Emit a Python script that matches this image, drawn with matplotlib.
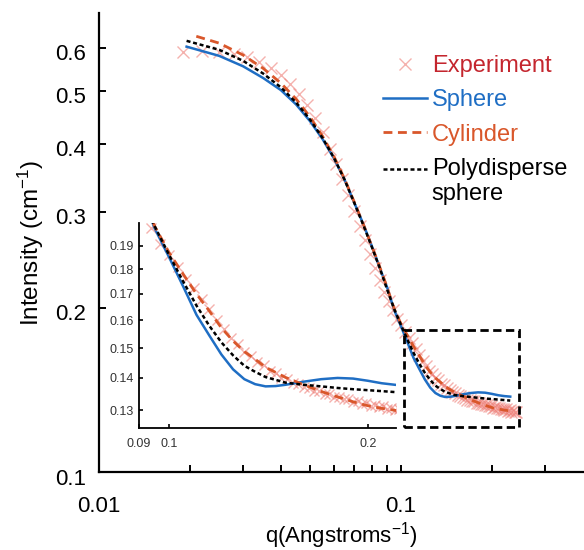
import matplotlib
matplotlib.use("Agg")
import matplotlib.pyplot as plt
from matplotlib.patches import Rectangle
from matplotlib.ticker import FixedLocator, NullLocator, NullFormatter
from matplotlib.transforms import ScaledTranslation

plt.rcParams['font.family'] = ['Liberation Sans', 'DejaVu Sans']
plt.rcParams['mathtext.fontset'] = 'custom'
plt.rcParams['mathtext.rm'] = 'Liberation Sans'
plt.rcParams['mathtext.it'] = 'Liberation Sans:italic'

# experiment (q in 1/A, intensity in 1/cm)
q_exp = [0.019, 0.022, 0.025, 0.028, 0.031, 0.034, 0.037, 0.040, 0.043, 0.046,
         0.049, 0.052, 0.055, 0.058, 0.061, 0.064, 0.067, 0.070, 0.073, 0.076,
         0.079, 0.082, 0.085, 0.088, 0.091, 0.094, 0.097, 0.100, 0.103, 0.106,
         0.109, 0.112, 0.115, 0.118, 0.121, 0.124, 0.127, 0.130, 0.133, 0.136,
         0.139, 0.142, 0.145, 0.148, 0.151, 0.154, 0.157, 0.160, 0.163, 0.166,
         0.169, 0.172, 0.175, 0.178, 0.181, 0.184, 0.187, 0.190, 0.193, 0.196,
         0.199, 0.202, 0.205, 0.208, 0.211, 0.214, 0.217, 0.220, 0.223, 0.226,
         0.229, 0.232, 0.235, 0.238, 0.241]
I_exp = [0.590, 0.592, 0.590, 0.585, 0.577, 0.566, 0.552, 0.535, 0.515, 0.494,
         0.471, 0.446, 0.420, 0.392, 0.368, 0.345, 0.322, 0.301, 0.283, 0.266,
         0.251, 0.237, 0.225, 0.214, 0.206, 0.198, 0.191, 0.186, 0.181, 0.176,
         0.1725, 0.1680, 0.1642, 0.1600, 0.1568, 0.1535, 0.1514, 0.1488, 0.1474, 0.1453,
         0.1442, 0.1424, 0.1416, 0.1401, 0.1396, 0.1384, 0.1381, 0.1370, 0.1368, 0.1358,
         0.1357, 0.1348, 0.1348, 0.1340, 0.1340, 0.1332, 0.1333, 0.1325, 0.1327, 0.1319,
         0.1320, 0.1313, 0.1316, 0.1308, 0.1312, 0.1303, 0.1307, 0.1299, 0.1304, 0.1295,
         0.1299, 0.1291, 0.1295, 0.1287, 0.1290]

# sphere model
q_sph = [0.0195, 0.025, 0.030, 0.035, 0.040, 0.045, 0.050, 0.055, 0.060, 0.065,
         0.070, 0.075, 0.080, 0.085, 0.090, 0.095, 0.100, 0.105, 0.110, 0.115,
         0.120, 0.125, 0.130, 0.135, 0.140, 0.145, 0.150, 0.160, 0.170, 0.180,
         0.190, 0.200, 0.210, 0.220, 0.230]
I_sph = [0.603, 0.580, 0.555, 0.528, 0.502, 0.472, 0.440, 0.408, 0.376, 0.344,
         0.312, 0.285, 0.260, 0.237, 0.218, 0.198, 0.185, 0.173, 0.162, 0.1545,
         0.1478, 0.1428, 0.1396, 0.1380, 0.1373, 0.1374, 0.1378, 0.1388, 0.1396, 0.1400,
         0.1398, 0.1391, 0.1383, 0.1378, 0.1375]

# cylinder model
q_cyl = [0.021, 0.025, 0.030, 0.035, 0.040, 0.045, 0.050, 0.055, 0.060, 0.065,
         0.070, 0.075, 0.080, 0.085, 0.090, 0.095, 0.100, 0.105, 0.110, 0.115,
         0.120, 0.125, 0.130, 0.135, 0.140, 0.150, 0.160, 0.170, 0.180, 0.190,
         0.200, 0.210, 0.220, 0.230]
I_cyl = [0.630, 0.612, 0.582, 0.550, 0.517, 0.483, 0.448, 0.413, 0.379, 0.345,
         0.313, 0.285, 0.260, 0.238, 0.218, 0.199, 0.187, 0.178, 0.170, 0.1635,
         0.1572, 0.1525, 0.1488, 0.1462, 0.1435, 0.1402, 0.1378, 0.1357, 0.1340, 0.1325,
         0.1313, 0.1305, 0.1299, 0.1294]

# polydisperse sphere model
q_poly = [0.0195, 0.025, 0.030, 0.035, 0.040, 0.045, 0.050, 0.055, 0.060, 0.065,
          0.070, 0.075, 0.080, 0.085, 0.090, 0.095, 0.100, 0.105, 0.110, 0.115,
          0.120, 0.125, 0.130, 0.135, 0.140, 0.150, 0.160, 0.170, 0.180, 0.190,
          0.200, 0.210, 0.220, 0.230]
I_poly = [0.618, 0.595, 0.568, 0.538, 0.508, 0.476, 0.443, 0.410, 0.377, 0.344,
          0.312, 0.284, 0.259, 0.237, 0.216, 0.199, 0.186, 0.175, 0.1655, 0.158,
          0.152, 0.1475, 0.1440, 0.1420, 0.1403, 0.1385, 0.1378, 0.1373, 0.1368, 0.1364,
          0.1361, 0.1358, 0.1355, 0.1352]

zoom_q = [0.102, 0.245]
zoom_I = [0.121, 0.182]

c_exp = '#EE7F78'
c_exp_text = '#C4262E'
c_sph = '#1F6EC4'
c_cyl = '#D9572B'
c_poly = 'black'

fig = plt.figure(figsize=(5.84, 5.5), dpi=100)
ax = fig.add_axes([0.1695, 0.1418, 0.8305, 0.8345])


def draw_all(a, ms):
    h1, = a.plot(q_exp, I_exp, 'x', color=c_exp, ms=ms, mew=1.0, alpha=0.6,
                 label='Experiment')
    h2, = a.plot(q_sph, I_sph, '-', color=c_sph, lw=1.8, label='Sphere')
    h3, = a.plot(q_cyl, I_cyl, color=c_cyl, lw=2.0, ls=(0, (3.2, 2.0)),
                 label='Cylinder')
    h4, = a.plot(q_poly, I_poly, color=c_poly, lw=1.8, ls=(0, (1.6, 1.1)),
                 label='Polydisperse\nsphere')
    return [h1, h2, h3, h4]


handles = draw_all(ax, 9)
ax.set_xscale('log')
ax.set_yscale('log')
ax.set_xlim(0.01, 0.4036)
ax.set_ylim(0.1, 0.695)
for s in ['top', 'right']:
    ax.spines[s].set_visible(False)
for s in ['left', 'bottom']:
    ax.spines[s].set_linewidth(1.6)
ax.xaxis.set_major_locator(FixedLocator([0.01, 0.1]))
ax.xaxis.set_minor_locator(FixedLocator([0.02, 0.03, 0.04, 0.05, 0.06, 0.07,
                                         0.08, 0.09, 0.2, 0.3]))
ax.xaxis.set_minor_formatter(NullFormatter())
ax.set_xticklabels(['0.01', '0.1'])
ax.yaxis.set_major_locator(FixedLocator([0.1, 0.2, 0.3, 0.4, 0.5, 0.6]))
ax.yaxis.set_minor_locator(NullLocator())
ax.set_yticklabels(['0.1', '0.2', '0.3', '0.4', '0.5', '0.6'])
ax.tick_params(which='both', direction='in', width=1.4, labelsize=16)
ax.tick_params(axis='x', which='both', length=5, pad=17)
ax.tick_params(axis='y', length=5, pad=9)
shift = ScaledTranslation(0, -4.5 / 100, fig.dpi_scale_trans)
for lab in ax.get_yticklabels():
    lab.set_transform(lab.get_transform() + shift)
ax.set_xlabel('q(Angstroms$^{-1}$)', fontsize=16)
ax.set_ylabel('Intensity (cm$^{-1}$)', fontsize=17.5)
ax.xaxis.set_label_coords(0.5, -0.104)
ax.yaxis.set_label_coords(-0.11, 0.5)

ax.add_patch(Rectangle((zoom_q[0], zoom_I[0]), zoom_q[1] - zoom_q[0],
                       zoom_I[1] - zoom_I[0], fill=False, ec='black', lw=2.0,
                       ls=(0, (3, 1.6)), zorder=5))

leg = ax.legend(handles=handles, loc='upper left',
                bbox_to_anchor=(383 / 584, 1 - 55 / 550),
                bbox_transform=fig.transFigure, frameon=False, fontsize=17,
                handlelength=1.86, handletextpad=0.2, borderpad=0,
                borderaxespad=0, labelspacing=0.52,
                labelcolor=[c_exp_text, c_sph, c_cyl, 'black'])
# put the handle of the two-line entry next to its first line
poly_handle = leg.legend_handles[3]
poly_handle.set_ydata([y + 9.5 for y in poly_handle.get_ydata()])

# inset
axi = fig.add_axes([0.238, 0.2218, 0.440, 0.3727])
axi.patch.set_alpha(0)
draw_all(axi, 7.5)
axi.set_xscale('log')
axi.set_yscale('log')
axi.set_xlim(0.09, 0.2207)
axi.set_ylim(0.1247, 0.2003)
for s in ['top', 'right']:
    axi.spines[s].set_visible(False)
for s in ['left', 'bottom']:
    axi.spines[s].set_linewidth(1.3)
axi.xaxis.set_major_locator(FixedLocator([0.09, 0.1, 0.2]))
axi.xaxis.set_minor_locator(NullLocator())
axi.set_xticklabels(['0.09', '0.1', '0.2'])
axi.yaxis.set_major_locator(FixedLocator([0.13, 0.14, 0.15, 0.16, 0.17, 0.18, 0.19]))
axi.yaxis.set_minor_locator(NullLocator())
axi.set_yticklabels(['0.13', '0.14', '0.15', '0.16', '0.17', '0.18', '0.19'])
axi.tick_params(direction='in', length=3, width=1.2, labelsize=9,
                labelcolor='#333333')
axi.tick_params(axis='x', pad=7)
axi.tick_params(axis='y', pad=4)

fig.savefig('out.png', dpi=100)
